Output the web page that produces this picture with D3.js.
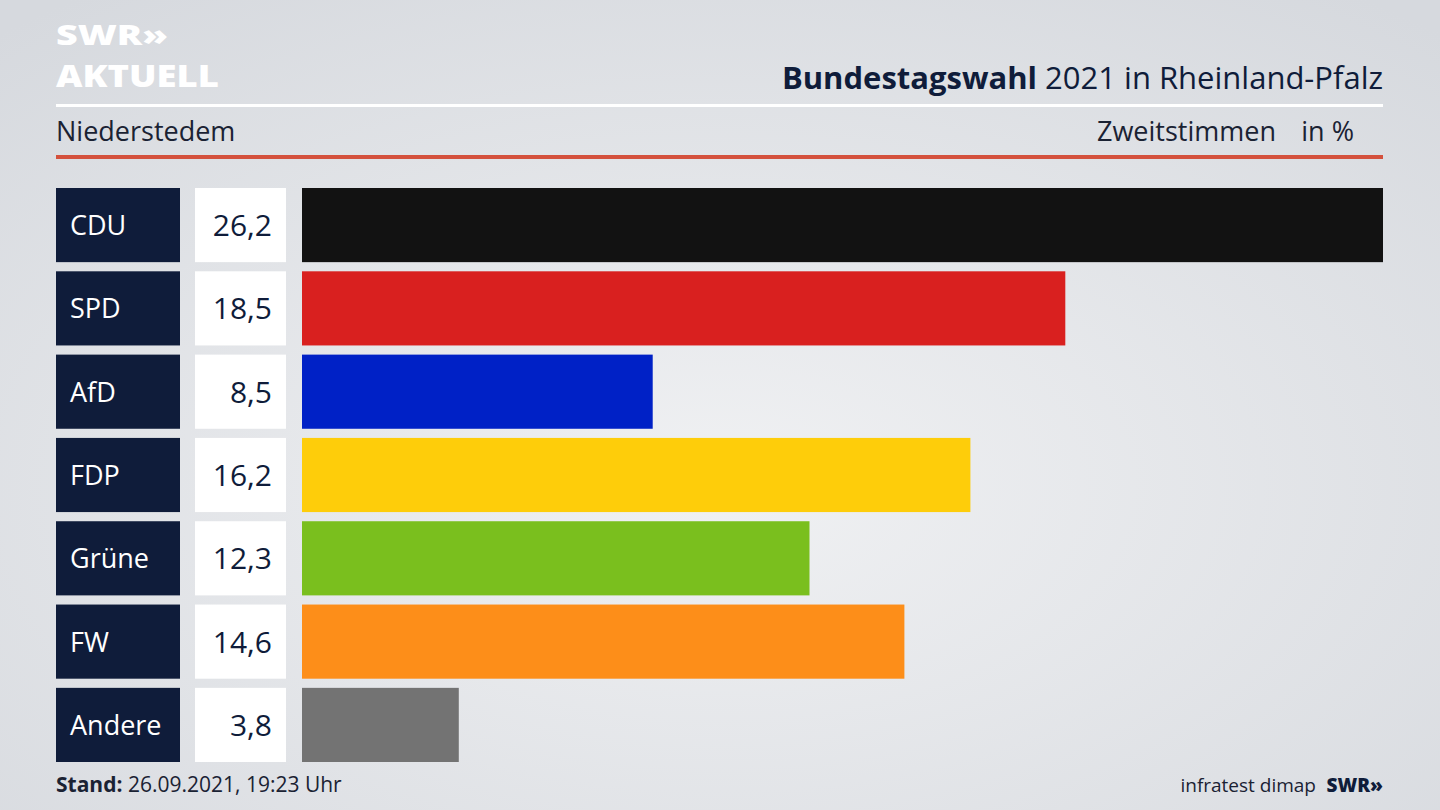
<!DOCTYPE html>
<html><head><meta charset="utf-8">
<script src="https://cdn.jsdelivr.net/npm/d3@7"></script>
<style>body{margin:0}svg{display:block}</style>
</head><body><svg></svg>
<script>
const parties = ["CDU", "SPD", "AfD", "FDP", "Grüne", "FW", "Andere"];
const values = [26.2, 18.5, 8.5, 16.2, 12.3, 14.6, 3.8];
const colors = ["#121212", "#d9201f", "#0021c6", "#fecd0a", "#7abf1e", "#fd8e19", "#737373"];

const W = 1440, H = 810;
const font = "'Open Sans', 'Noto Sans', sans-serif";
var svg = d3.select("svg").attr("width", W).attr("height", H);

var defs = svg.append("defs");
var grad = defs.append("radialGradient").attr("id", "bg").attr("cx", "50%").attr("cy", "60%").attr("r", "75%");
grad.append("stop").attr("offset", "0%").attr("stop-color", "#f0f1f3");
grad.append("stop").attr("offset", "100%").attr("stop-color", "#d6d9de");
svg.append("rect").attr("width", W).attr("height", H).attr("fill", "url(#bg)");

// logo
svg.append("text").attr("x", 56).attr("y", 45).attr("font-family", font).attr("font-weight", 800)
    .attr("font-size", 28).attr("fill", "#fff").attr("textLength", 112)
    .attr("lengthAdjust", "spacingAndGlyphs").text("SWR»");
svg.append("text").attr("x", 56).attr("y", 87).attr("font-family", font).attr("font-weight", 800)
    .attr("font-size", 30).attr("fill", "#fff").attr("textLength", 163)
    .attr("lengthAdjust", "spacingAndGlyphs").text("AKTUELL");

var title = svg.append("text").attr("x", 1383).attr("y", 89).attr("text-anchor", "end")
    .attr("font-family", font).attr("font-size", 31).attr("fill", "#0f1c3a");
title.append("tspan").attr("font-weight", 700).text("Bundestagswahl");
title.append("tspan").text(" 2021 in Rheinland-Pfalz");

svg.append("rect").attr("x", 56).attr("y", 104).attr("width", 1327).attr("height", 3).attr("fill", "#fff");
svg.append("text").attr("x", 56).attr("y", 141).attr("font-family", font).attr("font-size", 27)
    .attr("fill", "#1a2233").text("Niederstedem");
svg.append("text").attr("x", 1276).attr("y", 141).attr("text-anchor", "end").attr("font-family", font)
    .attr("font-size", 27).attr("fill", "#1a2233").text("Zweitstimmen");
svg.append("text").attr("x", 1354).attr("y", 141).attr("text-anchor", "end").attr("font-family", font)
    .attr("font-size", 27).attr("fill", "#1a2233").text("in %");
svg.append("rect").attr("x", 56).attr("y", 155).attr("width", 1327).attr("height", 4).attr("fill", "#d4513d");

var x = d3.scaleLinear().domain([0, 26.2]).range([302, 1383]);
var y = d3.scaleBand().domain(parties).range([188, 762]).paddingInner(0.11).paddingOuter(0);

var rows = svg.selectAll("g.row").data(parties).join("g").attr("class", "row")
    .attr("transform", d => "translate(0," + y(d) + ")");
rows.append("rect").attr("x", 56).attr("width", 124).attr("height", y.bandwidth()).attr("fill", "#0f1c3a");
rows.append("text").attr("x", 70).attr("y", y.bandwidth() / 2 + 10).attr("font-family", font)
    .attr("font-size", 27).attr("fill", "#fff").text(d => d);
rows.append("rect").attr("x", 195).attr("width", 91).attr("height", y.bandwidth()).attr("fill", "#fff");
rows.append("text").attr("x", 272).attr("y", y.bandwidth() / 2 + 11).attr("text-anchor", "end")
    .attr("font-family", font).attr("font-size", 30).attr("fill", "#0f1c3a")
    .text((d, i) => values[i].toFixed(1).replace(".", ","));
rows.append("rect").attr("x", x(0)).attr("width", (d, i) => x(values[i]) - x(0))
    .attr("height", y.bandwidth()).attr("fill", (d, i) => colors[i]);

var foot = svg.append("text").attr("x", 56).attr("y", 792).attr("font-family", font)
    .attr("font-size", 21).attr("fill", "#1a2233");
foot.append("tspan").attr("font-weight", 700).text("Stand:");
foot.append("tspan").text(" 26.09.2021, 19:23 Uhr");
svg.append("text").attr("x", 1316).attr("y", 792).attr("text-anchor", "end").attr("font-family", font)
    .attr("font-size", 19).attr("fill", "#1a2233").text("infratest dimap");
svg.append("text").attr("x", 1383).attr("y", 792).attr("text-anchor", "end").attr("font-family", font)
    .attr("font-weight", 800).attr("font-size", 19).attr("fill", "#0f1c3a").text("SWR»");
</script></body></html>
